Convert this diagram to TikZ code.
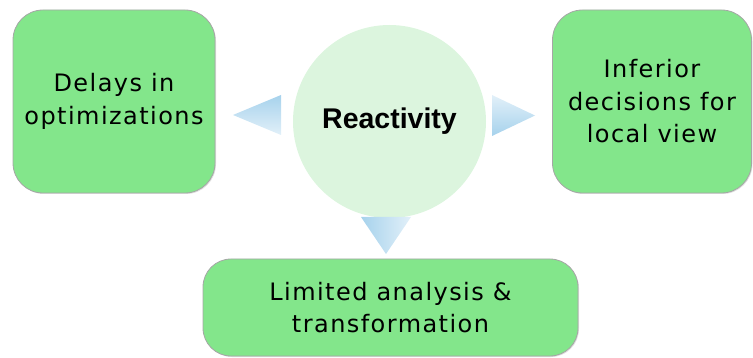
\documentclass[tikz,border=0pt]{standalone}
\usepackage{fontspec}
\setmainfont{DejaVu Sans}
\newfontfamily\boxfont[LetterSpace=6]{DejaVu Sans}
\newfontfamily\titlefont{Liberation Sans}
\usetikzlibrary{shadows}
\definecolor{boxgreen}{HTML}{83E68B}
\definecolor{hubgreen}{HTML}{DCF5DE}
\definecolor{arrowdark}{HTML}{A6D2EC}
\definecolor{arrowlight}{HTML}{E2F0F9}
\tikzset{
  x=1pt, y=-1pt,
  effectbox/.style={draw=black!35, line width=0.8pt, fill=boxgreen, rounded corners=30pt,
    align=center, font=\boxfont\fontsize{24}{32.5}\selectfont, inner sep=0pt,
    drop shadow={shadow xshift=1pt, shadow yshift=-1pt, opacity=0.25}},
  hub/.style={circle, fill=hubgreen, inner sep=0pt, minimum size=193pt,
    font=\titlefont\bfseries\fontsize{28.5}{30}\selectfont},
  pointer/.style={draw=none}
}
\begin{document}
\begin{tikzpicture}
\useasboundingbox (0,0) rectangle (753,358);

% central concept
\node[hub] (hub) at (389.5,121.5) {Reactivity};

% consequences
\node[effectbox, minimum width=202pt, minimum height=183pt] (delay) at (114,101.5)
  {Delays in\\optimizations};
\node[effectbox, minimum width=199pt, minimum height=183pt] (local) at (652,101.5)
  {Inferior\\decisions for\\local view};
\node[effectbox, minimum width=375pt, minimum height=97pt, rounded corners=28pt] (limit) at (390.5,307.5)
  {Limited analysis \&\\transformation};

% pointers from the hub towards each consequence
\shade[pointer, top color=arrowdark, bottom color=arrowlight]
  (281,95) -- (281,135) -- (233,115) -- cycle;
\shade[pointer, top color=arrowlight, bottom color=arrowdark]
  (492,95) -- (492,136) -- (535,115.5) -- cycle;
\shade[pointer, left color=arrowdark, right color=arrowlight]
  (361,217) -- (411,217) -- (386,254) -- cycle;
\end{tikzpicture}
\end{document}
